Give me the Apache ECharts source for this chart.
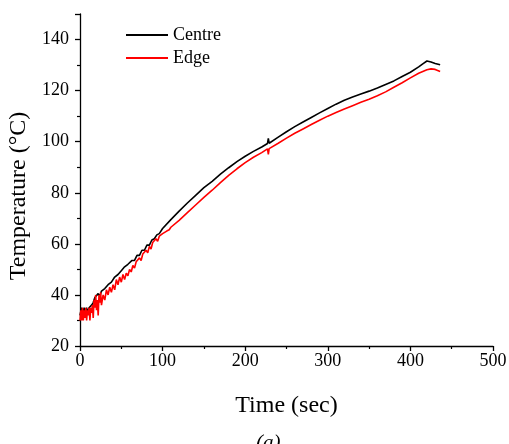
<!DOCTYPE html>
<html>
<head>
<meta charset="utf-8">
<script src="https://cdn.jsdelivr.net/npm/echarts@6/dist/echarts.min.js"></script>
<style>
html,body{margin:0;padding:0;background:#fff;}
#main{width:509px;height:444px;}
</style>
</head>
<body>
<div id="main"></div>
<script>
// Centre thermocouple (time in sec, temperature in °C)
var centreTime=[0,2,3,5,6,8,9,11,12,14,16,18,20,22,24,26,28,30,32,34,36,38,40,42,44,46,48,50,52,54,56,58,60,63,66,69,72,75,78,81,84,87,90,93,96,100,110,120,130,140,150,160,170,180,190,200,210,220,227,228,229,230,240,250,260,270,280,290,300,310,320,330,340,350,360,370,380,390,400,410,415,420,425,430,436];
var centreTemp=[32,35,32,35,33,35,33,35,35,36,37,39,39,40.5,39.5,41.5,41,42.5,42,44,43.5,45,45.5,47,46.5,48,48,49.5,49,51,50.5,52,52,53.5,53.5,55.5,55.5,57.5,57.5,59.5,59.5,61.5,62,63.5,64,66,69.5,72.8,76,79,82,84.5,87.3,89.8,92.2,94.3,96.2,97.9,99.3,101.3,99.4,99.8,101.8,103.9,105.9,107.7,109.5,111.3,113,114.7,116.2,117.5,118.7,119.8,121,122.4,123.8,125.5,127.2,129.3,130.5,131.6,131.2,130.6,130.1];

// Edge thermocouple
var edgeTime=[0,1,2,3,4,5,6,7,8,9,10,11,12,13,14,15,16,17,18,19,20,21,22,23,24,25,26,28,30,32,34,36,38,40,42,44,46,48,50,52,54,56,58,60,62,64,66,68,70,72,74,76,78,80,82,84,86,88,90,92,94,96,98,100,102,105,108,110,120,130,140,150,160,170,180,190,200,210,220,227,228,229,230,240,250,260,270,280,290,300,310,320,330,340,350,360,370,380,390,400,410,420,425,430,436];
var edgeTemp=[30,34,30,35,30,34,31,35,30,34,32,35,30,35,33,36,31,38,35,40,34,38,32,40,37,41,36,40,38,42,40,43,41,44,42,46,44,47,45,48,46,48.5,47.5,50,49,51.5,50.5,53,52.5,54.5,53.5,56,55.5,57.5,56.5,59,58,60.5,60,62,61,63,62.5,64,63.5,65,65.5,66.5,69.2,72.2,75.2,78.2,81,84,86.8,89.4,91.8,93.9,95.7,97.2,95,97.3,97.4,99.4,101.4,103.3,105,106.7,108.4,110,111.4,112.8,114.1,115.4,116.6,118,119.5,121.3,123.1,125,126.8,128.2,128.5,128.3,127.5];

var xTicks=[0,100,200,300,400,500];
var yTicks=[20,40,60,80,100,120,140];

function pairs(t,v){
	var out=[];
	for(var i=0;i<t.length;i++){out.push([t[i],v[i]]);}
	return out;
}

var serif='"Liberation Serif","Times New Roman",serif';
var chart=echarts.init(document.getElementById('main'));

var option={
	animation:false,
	backgroundColor:'#fff',
	grid:{left:80,right:16,top:14,bottom:98,containLabel:false,outerBoundsMode:'none'},
	legend:{
		left:121,top:21,orient:'vertical',itemGap:5,
		itemWidth:42,itemHeight:2,icon:'rect',
		textStyle:{fontFamily:serif,fontSize:18,color:'#000'},
		data:['Centre','Edge']
	},
	xAxis:{
		type:'value',min:0,max:500,interval:100,
		name:'Time (sec)',nameLocation:'middle',nameGap:48,
		nameTextStyle:{fontFamily:serif,fontSize:24,color:'#000'},
		axisLine:{onZero:false,lineStyle:{color:'#000',width:1.3}},
		axisTick:{inside:false,length:5,lineStyle:{color:'#000',width:1.3}},
		minorTick:{show:true,splitNumber:2,length:3,lineStyle:{color:'#000',width:1.2}},
		axisLabel:{fontFamily:serif,fontSize:18,color:'#000',margin:6,
			formatter:function(v){return xTicks.indexOf(v)>=0?String(v):'';}},
		splitLine:{show:false}
	},
	yAxis:{
		type:'value',min:20,max:150,interval:20,
		name:'Temperature (°C)',nameLocation:'middle',nameGap:46,
		nameTextStyle:{fontFamily:serif,fontSize:24,color:'#000',padding:[0,32,0,0]},
		axisLine:{show:true,onZero:false,lineStyle:{color:'#000',width:1.3}},
		axisTick:{show:true,inside:false,length:5,lineStyle:{color:'#000',width:1.3}},
		minorTick:{show:true,splitNumber:2,length:3,lineStyle:{color:'#000',width:1.2}},
		axisLabel:{fontFamily:serif,fontSize:18,color:'#000',margin:11,
			formatter:function(v){return yTicks.indexOf(v)>=0?String(v):'';}},
		splitLine:{show:false}
	},
	graphic:[{
		type:'text',left:256,top:433,
		style:{text:'(a)',fontFamily:serif,fontSize:21,fontStyle:'italic',fill:'#000'}
	}],
	series:[
		{name:'Centre',type:'line',showSymbol:false,symbol:'none',
			data:pairs(centreTime,centreTemp),
			lineStyle:{color:'#000',width:1.6},itemStyle:{color:'#000'},z:2},
		{name:'Edge',type:'line',showSymbol:false,symbol:'none',
			data:pairs(edgeTime,edgeTemp),
			lineStyle:{color:'#ff0000',width:1.6},itemStyle:{color:'#ff0000'},z:3}
	]
};
chart.setOption(option);
</script>
</body>
</html>
